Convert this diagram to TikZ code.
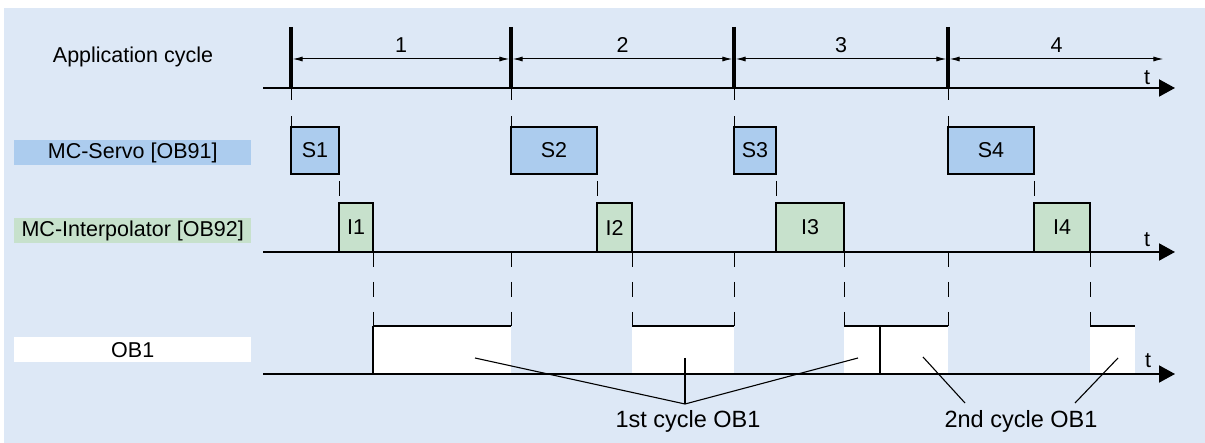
\documentclass[tikz,border=0pt]{standalone}
\usepackage{fontspec}
\setmainfont{Liberation Sans}
\usetikzlibrary{arrows.meta,positioning}
\definecolor{bgblue}{RGB}{221,232,246}
\definecolor{servoblue}{RGB}{172,204,238}
\definecolor{interpgreen}{RGB}{199,225,204}

\begin{document}
\begin{tikzpicture}[
    x=1pt, y=-1pt,
    every node/.style={font=\fontsize{21.5}{24}\selectfont},
    rowlabel/.style={minimum width=237pt, minimum height=25pt, inner sep=0pt, anchor=west},
    taskbox/.style={draw, line width=2.8pt, anchor=north west, inner sep=0pt, outer sep=0pt},
    obblock/.style={fill=white, anchor=north west, minimum height=48pt, inner sep=0pt, outer sep=0pt},
    timeaxis/.style={line width=2pt, -{Triangle[length=16pt,width=17pt]}},
    cyclemark/.style={line width=3.2pt},
    tickline/.style={line width=1pt},
    gap/.style={line width=1pt, dash pattern=on 15pt off 15pt},
    span/.style={line width=1pt, {Latex[length=10pt,width=5pt]}-{Latex[length=10pt,width=5pt]}},
    busyline/.style={line width=2.2pt},
    callout/.style={line width=1.1pt},
    note/.style={anchor=base, font=\fontsize{23.5}{27}\selectfont}
    ]
\useasboundingbox (0,0) rectangle (1205,443);
\fill[bgblue] (4,8) rectangle (1205,443);

\node[anchor=base] (appl) at (133,63) {Application cycle};
\node[rowlabel, fill=servoblue] (servo) at (14,152.5) {MC-Servo [OB91]};
\node[rowlabel, fill=interpgreen] (interp) at (14,230.5) {MC-Interpolator [OB92]};
\node[rowlabel, fill=white] (ob) at (14,350) {OB1};

\foreach \x/\w [count=\i] in {291/48, 511/86, 734/42, 948/86}
    \node[taskbox, fill=servoblue, minimum width=\w, minimum height=47] (S\i) at (\x,127) {S\i};
\foreach \x/\w [count=\i] in {339/34, 597/35, 776/68, 1034/56}
    \node[taskbox, fill=interpgreen, minimum width=\w, minimum height=49] (I\i) at (\x,203) {I\i};

\foreach \x/\w [count=\i] in {373/138, 632/102, 844/104, 1090/45} {
    \node[obblock, minimum width=\w] (P\i) at (\x,326) {};
    \draw[busyline] (P\i.north west) -- (P\i.north east);
}
\draw[busyline] (P1.north west) -- (P1.south west);
\draw[busyline] ([xshift=36pt]P3.north west) -- ([xshift=36pt]P3.south west);

\draw[timeaxis] (263,88) -- (1175,88);
\draw[timeaxis] (263,252) -- (1175,252);
\draw[timeaxis] (263,374) -- (1175,374);
\node[anchor=base] (t1) at (1147,85) {t};
\node[anchor=base] (t2) at (1147,247) {t};
\node[anchor=base] (t3) at (1148,368) {t};

\foreach \x [count=\i] in {291,511,734,948} {
    \coordinate (c\i) at (\x,88);
    \draw[cyclemark] (\x,27) -- (c\i);
    \draw[tickline] (c\i) -- ++(0,12);
    \draw[tickline] (S\i.north west) -- ++(0,-11);
    \draw[tickline] ([yshift=-7pt]S\i.south east) -- ([yshift=7pt]I\i.north west);
    \draw[gap] (I\i.south east) -- (I\i.south east |- P1.north);
}
\foreach \i in {2,3,4}
    \draw[gap] (c\i |- I1.south) -- (c\i |- P1.north);

\foreach \a/\b/\n in {291/511/1, 511/734/2, 734/948/3, 948/1165/4}
    \draw[span, shorten <=1.6pt, shorten >=1.6pt] (\a,59) -- (\b,59)
        node[midway, anchor=base, yshift=6pt] {\n};

\node[note] (first) at (688,428) {1st cycle OB1};
\node[note] (second) at (1021,428) {2nd cycle OB1};
\coordinate (apex) at (685,404);
\coordinate (p1) at (475,358);
\coordinate (p2) at (685,358);
\coordinate (p3) at (858,358);
\coordinate (p4) at (923,357);
\coordinate (p5) at (1118,358);
\draw[callout] (p1) -- (apex) -- (p3);
\draw[callout] (p2) -- (apex);
\draw[callout] (p4) -- (965,403);
\draw[callout] (p5) -- (1075,403);
\end{tikzpicture}
\end{document}
